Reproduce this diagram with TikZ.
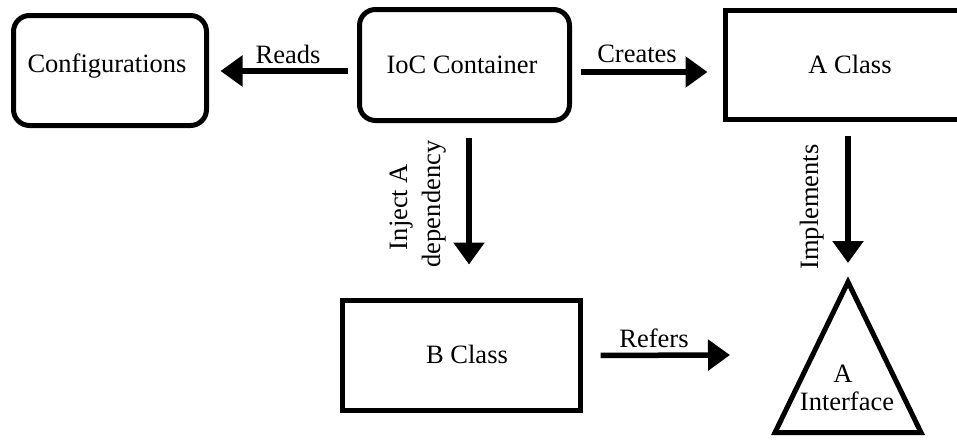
\documentclass[tikz,border=0pt]{standalone}
\usepackage{fontspec}
\setmainfont{Liberation Serif}
\usetikzlibrary{arrows.meta}
\begin{document}
\begin{tikzpicture}[x=1pt,y=-1pt,
  rbox/.style={draw, line width=5pt, rounded corners=16pt, inner sep=0pt},
  sbox/.style={draw, line width=5pt, inner sep=0pt},
  txt/.style={inner sep=0pt, anchor=base, font=\fontsize{26.5}{32}\selectfont},
  arr/.style={line width=5.5pt, -{Triangle[length=22pt,width=30pt]}}]
\useasboundingbox (0,0) rectangle (957,439);
\clip (0,0) rectangle (957,439);
% boxes
\node[rbox, minimum width=193pt, minimum height=110pt] (conf) at (110,70.5) {};
\node[rbox, minimum width=210pt, minimum height=111pt] (ioc) at (464.5,65) {};
\node[sbox, minimum width=249pt, minimum height=109pt] (acls) at (850,65) {};
\node[sbox, minimum width=238pt, minimum height=110pt] (bcls) at (461.5,355.5) {};
\coordinate (apex) at (848,282);
\coordinate (tl) at (775,432.5);
\coordinate (tr) at (921,432.5);
\draw[line width=5pt, line join=miter] (apex) -- (tr) -- (tl) -- cycle;
% box texts
\node[txt] (conft) at (107,72) {Configurations};
\node[txt] (ioct) at (462,73) {IoC Container};
\node[txt] (aclst) at (850,73) {A Class};
\node[txt] (bclst) at (467,363) {B Class};
\node[txt] (ait1) at (843,382) {A};
\node[txt] (ait2) at (847,410) {Interface};
% connectors
\coordinate (refend) at (730,355);
\draw[arr, shorten <=9.5pt, shorten >=11.5pt] ([yshift=-6pt]ioc.west) -- ([yshift=-6pt]ioc.west -| conf.east);
\draw[arr, shorten <=8.5pt, shorten >=15.5pt] ([yshift=-7pt]ioc.east) -- ([yshift=-7pt]ioc.east -| acls.west);
\draw[arr, shorten <=14.5pt, shorten >=33.5pt] ([xshift=4.5pt]ioc.south) -- ([xshift=4.5pt]ioc.south |- bcls.north);
\draw[arr, shorten <=13.5pt, shorten >=19pt] ([xshift=-2pt]acls.south) -- (apex);
\draw[arr, shorten <=17.5pt] (bcls.east) -- (refend);
% connector labels
\node[txt] (lreads) at (288,63) {Reads};
\node[txt] (lcreates) at (637,62) {Creates};
\node[txt] (lrefers) at (654,347) {Refers};
\node[txt, rotate=90] (linj1) at (407,207) {Inject A};
\node[txt, rotate=90] (linj2) at (440,204) {dependency};
\node[txt, rotate=90] (limpl) at (818,207) {Implements};
\end{tikzpicture}
\end{document}
